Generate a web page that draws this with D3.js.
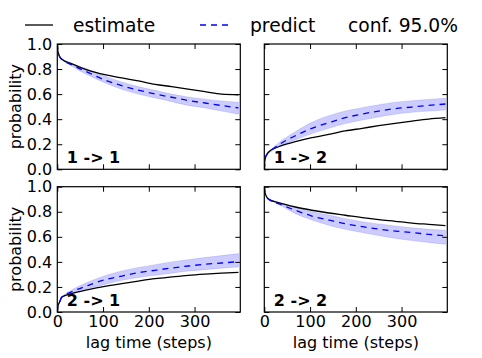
<!DOCTYPE html>
<html><head><meta charset="utf-8">
<script src="https://cdn.jsdelivr.net/npm/d3@7"></script>
<style>
html,body{margin:0;padding:0;background:#fff;}
text{font-family:"DejaVu Sans",sans-serif;}
</style></head>
<body><svg id="c" width="482" height="358"></svg>
<script>
// ---- data ----
const tLine = [0,1,3,5,10,31,68,104,141,177,214,250,286,323,359,396];
const tBand = [10,31,68,104,141,177,214,250,286,323,359,396];

const est11  = [1.0,0.95,0.92,0.90,0.878,0.843,0.79,0.755,0.729,0.705,0.678,0.66,0.64,0.62,0.60,0.595];
const pred11 = [1.0,0.95,0.92,0.90,0.878,0.835,0.772,0.712,0.667,0.632,0.601,0.575,0.549,0.529,0.509,0.49];
const hi11   = [0.88,0.845,0.798,0.745,0.697,0.66,0.63,0.60,0.577,0.56,0.545,0.535];
const lo11   = [0.875,0.825,0.75,0.69,0.638,0.60,0.57,0.54,0.51,0.49,0.465,0.44];

const est12  = [0.0,0.06,0.10,0.115,0.14,0.18,0.22,0.252,0.279,0.306,0.327,0.348,0.367,0.385,0.401,0.412];
const pred12 = [0.0,0.06,0.10,0.115,0.135,0.194,0.268,0.327,0.372,0.412,0.441,0.465,0.484,0.497,0.51,0.521];
const hi12   = [0.14,0.21,0.30,0.375,0.428,0.465,0.492,0.515,0.535,0.548,0.558,0.567];
const lo12   = [0.13,0.18,0.234,0.285,0.327,0.365,0.393,0.418,0.44,0.455,0.465,0.473];

const est21  = [0.0,0.04,0.065,0.08,0.12,0.147,0.179,0.205,0.227,0.247,0.266,0.28,0.293,0.303,0.311,0.317];
const pred21 = [0.0,0.04,0.065,0.08,0.12,0.16,0.213,0.258,0.287,0.314,0.333,0.351,0.367,0.381,0.391,0.402];
const hi21   = [0.125,0.175,0.24,0.29,0.327,0.355,0.378,0.40,0.418,0.435,0.45,0.466];
const lo21   = [0.115,0.15,0.187,0.22,0.253,0.275,0.293,0.31,0.327,0.338,0.35,0.36];

const est22  = [1.0,0.96,0.935,0.92,0.899,0.873,0.838,0.812,0.79,0.772,0.753,0.737,0.724,0.71,0.70,0.69];
const pred22 = [1.0,0.96,0.935,0.92,0.899,0.865,0.812,0.766,0.734,0.705,0.681,0.662,0.646,0.634,0.62,0.607];
const hi22   = [0.90,0.875,0.838,0.80,0.774,0.745,0.721,0.703,0.686,0.672,0.66,0.652];
const lo22   = [0.895,0.86,0.785,0.735,0.692,0.66,0.634,0.61,0.588,0.57,0.555,0.54];

const panelLabels = ["1 -> 1","1 -> 2","2 -> 1","2 -> 2"];
const legendLabels = ["estimate","predict","conf. 95.0%"];
const xTicks = [0,100,200,300];
const yTicks = [0,0.2,0.4,0.6,0.8,1.0];
const xLabel = "lag time (steps)";
const yLabel = "probability";

// ---- drawing ----
const svg = d3.select("#c");
const colX = [57.3, 264.3], rowY = [44, 186.7], pw = 183, ph = 125.3;
const panels = [
  {r:0,c:0,est:est11,pred:pred11,hi:hi11,lo:lo11},
  {r:0,c:1,est:est12,pred:pred12,hi:hi12,lo:lo12},
  {r:1,c:0,est:est21,pred:pred21,hi:hi21,lo:lo21},
  {r:1,c:1,est:est22,pred:pred22,hi:hi22,lo:lo22}
];
const x = d3.scaleLinear().domain([0,400]).range([0,pw]);
const y = d3.scaleLinear().domain([0,1]).range([ph,0]);
const fs = "16px";

panels.forEach((p,i)=>{
  const g = svg.append("g").attr("transform",`translate(${colX[p.c]},${rowY[p.r]})`);
  const clip = "clip"+i;
  g.append("clipPath").attr("id",clip).append("rect").attr("width",pw).attr("height",ph);
  const pg = g.append("g").attr("clip-path",`url(#${clip})`);
  const band = tBand.map((t,k)=>({t,hi:p.hi[k],lo:p.lo[k]}));
  pg.append("path").datum(band)
    .attr("d", d3.area().x(d=>x(d.t)).y0(d=>y(d.lo)).y1(d=>y(d.hi)).curve(d3.curveMonotoneX))
    .attr("fill","#0000ff").attr("fill-opacity",0.2).attr("stroke","#0000ff").attr("stroke-opacity",0.12).attr("stroke-width",1);
  const line = d3.line().x(d=>x(d[0])).y(d=>y(d[1])).curve(d3.curveMonotoneX);
  pg.append("path").datum(tLine.map((t,k)=>[t,p.est[k]]))
    .attr("d",line).attr("fill","none").attr("stroke","#000").attr("stroke-width",1.3);
  pg.append("path").datum(tLine.map((t,k)=>[t,p.pred[k]]))
    .attr("d",line).attr("fill","none").attr("stroke","#0000ff").attr("stroke-width",1.3).attr("stroke-dasharray","6,5");

  // axes (inward ticks on all sides)
  const left = d3.axisLeft(y).tickValues(yTicks).tickSizeInner(-5).tickSizeOuter(0).tickPadding(5)
      .tickFormat(p.c===0 ? d3.format(".1f") : ()=> "");
  const right = d3.axisRight(y).tickValues(yTicks).tickSizeInner(-5).tickSizeOuter(0).tickFormat(()=> "");
  const bottom = d3.axisBottom(x).tickValues(xTicks).tickSizeInner(-5).tickSizeOuter(0).tickPadding(4)
      .tickFormat(p.r===1 ? d3.format("d") : ()=> "");
  const top = d3.axisTop(x).tickValues(xTicks).tickSizeInner(-5).tickSizeOuter(0).tickFormat(()=> "");
  [g.append("g").call(left),
   g.append("g").attr("transform",`translate(${pw},0)`).call(right),
   g.append("g").attr("transform",`translate(0,${ph})`).call(bottom),
   g.append("g").call(top)].forEach(a=>{
     a.select(".domain").remove();
     a.selectAll("line").attr("stroke","#000").attr("stroke-width",1);
     a.selectAll("text").attr("fill","#000").style("font-size",fs).style("font-family","DejaVu Sans");
   });
  g.append("rect").attr("width",pw).attr("height",ph).attr("fill","none").attr("stroke","#000").attr("stroke-width",1.2);

  g.append("text").attr("x",9.5).attr("y",ph-6).text(panelLabels[i])
    .style("font-size",fs).style("font-weight","bold");

  if (p.c===0) {
    g.append("text").attr("transform",`translate(${-36},${ph/2}) rotate(-90)`)
      .attr("text-anchor","middle").style("font-size",fs).text(yLabel);
  }
  if (p.r===1) {
    g.append("text").attr("x",pw/2).attr("y",ph+36).attr("text-anchor","middle")
      .style("font-size",fs).text(xLabel);
  }
});

// legend
const lg = svg.append("g");
const lfs = "18.7px";
lg.append("line").attr("x1",25).attr("x2",53).attr("y1",25).attr("y2",25).attr("stroke","#000").attr("stroke-width",1.3);
lg.append("text").attr("x",73).attr("y",32).style("font-size",lfs).text(legendLabels[0]);
lg.append("line").attr("x1",200).attr("x2",231).attr("y1",25).attr("y2",25).attr("stroke","#0000ff").attr("stroke-width",1.3).attr("stroke-dasharray","6,5");
lg.append("text").attr("x",250).attr("y",32).style("font-size",lfs).text(legendLabels[1]);
lg.append("text").attr("x",348).attr("y",32).style("font-size",lfs).text(legendLabels[2]);
</script></body></html>
